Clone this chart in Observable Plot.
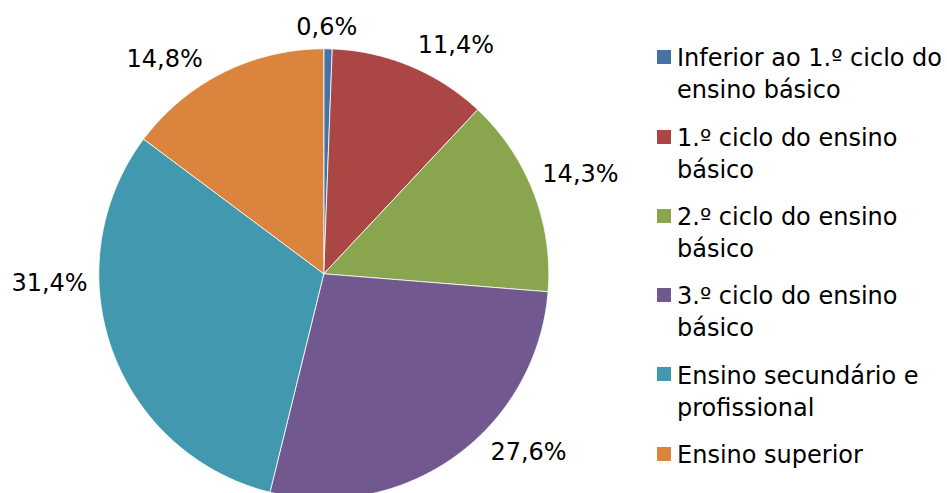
<!DOCTYPE html>
<html>
<head>
<meta charset="utf-8">
<script src="https://cdn.jsdelivr.net/npm/d3@7"></script>
<script src="https://cdn.jsdelivr.net/npm/@observablehq/plot@0.6"></script>
<style>
  html, body { margin: 0; padding: 0; background: #fff; overflow: hidden; }
  #wrap { position: relative; width: 947px; height: 493px; font-family: "DejaVu Sans", sans-serif; }
  #chart { position: absolute; left: 0; top: 0; }
  #legend { position: absolute; left: 657px; top: 42.4px; width: 300px; }
  .item { display: flex; align-items: flex-start; margin-bottom: 15.3px; }
  .sw { width: 14px; height: 14px; margin-top: 7.9px; margin-right: 6px; flex: none; }
  .lab { font-size: 24px; line-height: 32px; color: #000; width: 272px; }
</style>
</head>
<body>
<div id="wrap"><div id="chart"></div><div id="legend"></div></div>
<script>
// ---- data ----
const categories = [
  "Inferior ao 1.º ciclo do ensino básico",
  "1.º ciclo do ensino básico",
  "2.º ciclo do ensino básico",
  "3.º ciclo do ensino básico",
  "Ensino secundário e profissional",
  "Ensino superior"
];
const values = [0.6, 11.4, 14.3, 27.6, 31.4, 14.8];
const valueLabels = ["0,6%", "11,4%", "14,3%", "27,6%", "31,4%", "14,8%"];
const colors = ["#4572A7", "#AA4643", "#89A54E", "#71588F", "#4198AF", "#DB843D"];

// ---- layout (label angle adjustments in degrees, as placed in the original) ----
const labelAngleNudge = [-0.4, 7.4, 0, -13.2, 17.6, -10];

const R = 225;          // pie radius in px (x/y scale: 1 unit = R px)
const fontSize = 24;
const gap = 11;

const total = d3.sum(values);
let cum = 0;
const slices = values.map((v, i) => {
  const a0 = cum / total * 2 * Math.PI;
  cum += v;
  const a1 = cum / total * 2 * Math.PI;
  return {cat: categories[i], a0, a1, i};
});

// slice outlines (in unit-circle data space)
const pts = [];
for (const s of slices) {
  pts.push({cat: s.cat, x: 0, y: 0});
  const n = Math.max(2, Math.ceil((s.a1 - s.a0) / (Math.PI / 360)));
  for (let k = 0; k <= n; k++) {
    const a = s.a0 + (s.a1 - s.a0) * k / n;
    pts.push({cat: s.cat, x: Math.sin(a), y: Math.cos(a)});
  }
  pts.push({cat: s.cat, x: 0, y: 0});
}

// label positions: outside end
const ctx = document.createElement("canvas").getContext("2d");
ctx.font = `${fontSize}px "DejaVu Sans"`;
const labelData = slices.map(s => {
  const th = (s.a0 + s.a1) / 2 + labelAngleNudge[s.i] * Math.PI / 180;
  const hw = ctx.measureText(valueLabels[s.i]).width / 2;
  const hh = 10;
  const D = (R + gap + hw * Math.abs(Math.sin(th)) + hh * Math.abs(Math.cos(th))) / R;
  return {text: valueLabels[s.i], x: D * Math.sin(th), y: D * Math.cos(th)};
});

const cx = 323.3, cy = 273.3;
const chart = Plot.plot({
  width: 947,
  height: 493,
  margin: 0,
  x: {domain: [-1, 1], range: [cx - R, cx + R], axis: null},
  y: {domain: [-1, 1], range: [cy + R, cy - R], axis: null},
  color: {domain: categories, range: colors},
  style: {fontFamily: '"DejaVu Sans", sans-serif', background: "white", overflow: "visible"},
  marks: [
    Plot.line(pts, {x: "x", y: "y", z: "cat", fill: "cat", stroke: "white", strokeWidth: 1, strokeOpacity: 0.8, strokeLinejoin: "round"}),
    Plot.text(labelData, {x: "x", y: "y", text: "text", fontSize: fontSize, fill: "#000", textAnchor: "middle", lineAnchor: "middle"})
  ]
});
document.getElementById("chart").appendChild(chart);

// legend
const legend = d3.select("#legend");
categories.forEach((c, i) => {
  const item = legend.append("div").attr("class", "item");
  item.append("div").attr("class", "sw").style("background", colors[i]);
  item.append("div").attr("class", "lab").text(c);
});
</script>
</body>
</html>
